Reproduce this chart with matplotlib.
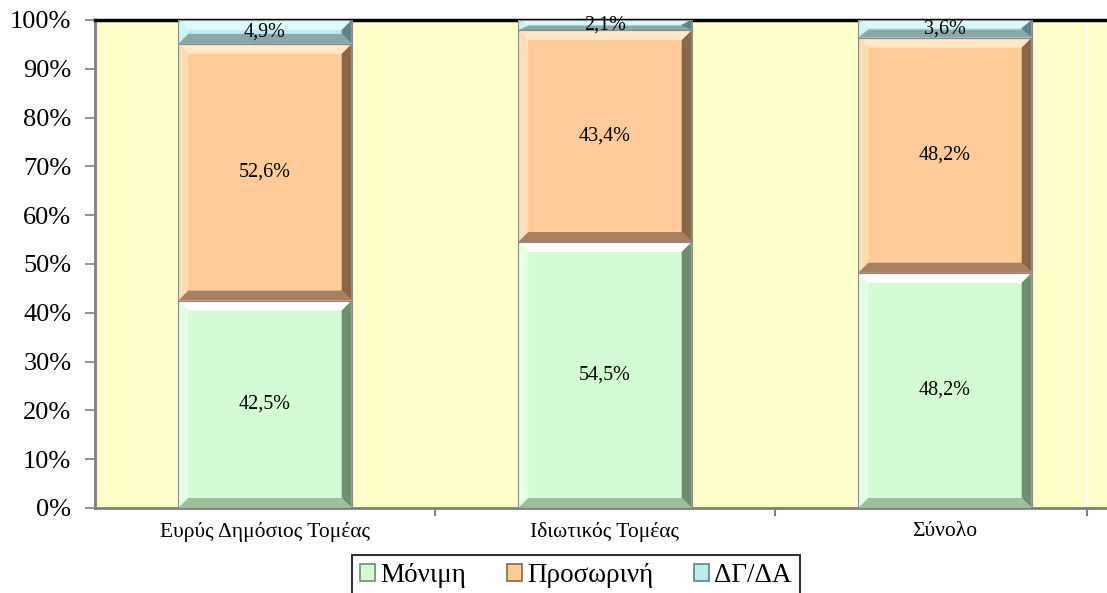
import matplotlib
matplotlib.use("Agg")
import matplotlib.pyplot as plt
from matplotlib.patches import Polygon, Rectangle, Patch
import numpy as np

categories = ["Ευρύς Δημόσιος Τομέας", "Ιδιωτικός Τομέας", "Σύνολο"]
series_names = ["Μόνιμη", "Προσωρινή", "ΔΓ/ΔΑ"]
monimi = [42.5, 54.5, 48.2]
prosorini = [52.6, 43.4, 48.2]
dg_da = [4.9, 2.1, 3.6]
label_texts = [["42,5%", "54,5%", "48,2%"],
               ["52,6%", "43,4%", "48,2%"],
               ["4,9%", "2,1%", "3,6%"]]
y_ticks = [0, 10, 20, 30, 40, 50, 60, 70, 80, 90, 100]

# colours: main, top highlight, left highlight, right shade, bottom shade
palettes = [
    dict(main="#D4FCD4", top="#FFFFFF", left="#E6FFE6", right="#6E8E6E", bottom="#9EBE9E"),
    dict(main="#FFCC99", top="#FFE8C8", left="#FFDDB5", right="#8A6646", bottom="#A88060"),
    dict(main="#BCEAEE", top="#DDFAFA", left="#D0F4F4", right="#5E8488", bottom="#88A8AA"),
]

plt.rcParams['font.family'] = ['Liberation Serif', 'DejaVu Serif']

W, H, DPI = 1107, 593, 100
fig = plt.figure(figsize=(W / DPI, H / DPI), dpi=DPI)
ax_left, ax_right, ax_top, ax_bottom = 95, 1115, 20, 508
ax = fig.add_axes([ax_left / W, 1 - ax_bottom / H, (ax_right - ax_left) / W, (ax_bottom - ax_top) / H])
ax.set_facecolor("#FFFFCC")
ax.set_xlim(-0.5, 2.5)
ax.set_ylim(0, 100)

px_x = (ax_right - ax_left) / 3.0   # pixels per x unit
px_y = (ax_bottom - ax_top) / 100.0  # pixels per y unit

bar_w = 0.51
bev_px = 10
bx = bev_px / px_x
by = bev_px / px_y

x = np.arange(len(categories))
series = [monimi, prosorini, dg_da]
bottoms = np.zeros(len(categories))
for si, vals in enumerate(series):
    pal = palettes[si]
    for ci, v in enumerate(vals):
        x0 = x[ci] - bar_w / 2
        x1 = x[ci] + bar_w / 2
        y0 = bottoms[ci]
        y1 = y0 + v
        h = y1 - y0
        byy = min(by, h / 2.2)
        bxx = min(bx, (x1 - x0) / 2.2)
        ax.add_patch(Rectangle((x0, y0), x1 - x0, h, facecolor=pal["main"], edgecolor="none", zorder=2))
        ax.add_patch(Polygon([(x0, y1), (x1, y1), (x1 - bxx, y1 - byy), (x0 + bxx, y1 - byy)],
                             closed=True, facecolor=pal["top"], edgecolor="none", zorder=3))
        ax.add_patch(Polygon([(x0, y0), (x0, y1), (x0 + bxx, y1 - byy), (x0 + bxx, y0 + byy)],
                             closed=True, facecolor=pal["left"], edgecolor="none", zorder=3))
        ax.add_patch(Polygon([(x1, y0), (x1, y1), (x1 - bxx, y1 - byy), (x1 - bxx, y0 + byy)],
                             closed=True, facecolor=pal["right"], edgecolor="none", zorder=3))
        ax.add_patch(Polygon([(x0, y0), (x1, y0), (x1 - bxx, y0 + byy), (x0 + bxx, y0 + byy)],
                             closed=True, facecolor=pal["bottom"], edgecolor="none", zorder=3))
        ax.add_patch(Rectangle((x0, y0), x1 - x0, h, facecolor="none", edgecolor="#8A8A8A", linewidth=0.8, zorder=4))
        ax.text(x[ci], y0 + h / 2, label_texts[si][ci], ha="center", va="center",
                fontsize=14.5, color="black", zorder=5)
    bottoms += np.array(vals)

# white vertical line near right edge
xr = 2.5 - (ax_right - 1087) / px_x
ax.axvline(xr, color="white", linewidth=1.5, zorder=1)

ax.set_yticks(y_ticks)
ax.set_yticklabels([f"{t}%" for t in y_ticks], fontsize=19)
ax.set_xticks([0.5, 1.5, xr], minor=True)
ax.set_xticks(x)
ax.set_xticklabels(categories, fontsize=15.5)
ax.tick_params(axis="x", which="major", length=0, pad=10)
ax.tick_params(axis="x", which="minor", length=6, color="#808080", width=1.5)
ax.tick_params(axis="y", length=7, color="#808080", width=1.2, pad=10)

for s in ["left", "bottom"]:
    ax.spines[s].set_color("#808080")
    ax.spines[s].set_linewidth(2)
ax.spines["top"].set_color("black")
ax.spines["top"].set_linewidth(2.5)
ax.spines["right"].set_visible(False)

handles = [Patch(facecolor=palettes[i]["main"], edgecolor=palettes[i]["right"], linewidth=1.2) for i in range(3)]
leg = fig.legend(handles, series_names, loc="upper center", bbox_to_anchor=(576 / W, 1 - 555 / H),
                 ncol=3, fontsize=19.5, frameon=True, fancybox=False, edgecolor="black",
                 handlelength=0.55, handleheight=0.55, handletextpad=0.2, columnspacing=1.5,
                 borderpad=0.3, borderaxespad=0)
leg.get_frame().set_linewidth(1.5)

fig.savefig("out.png", dpi=DPI)
